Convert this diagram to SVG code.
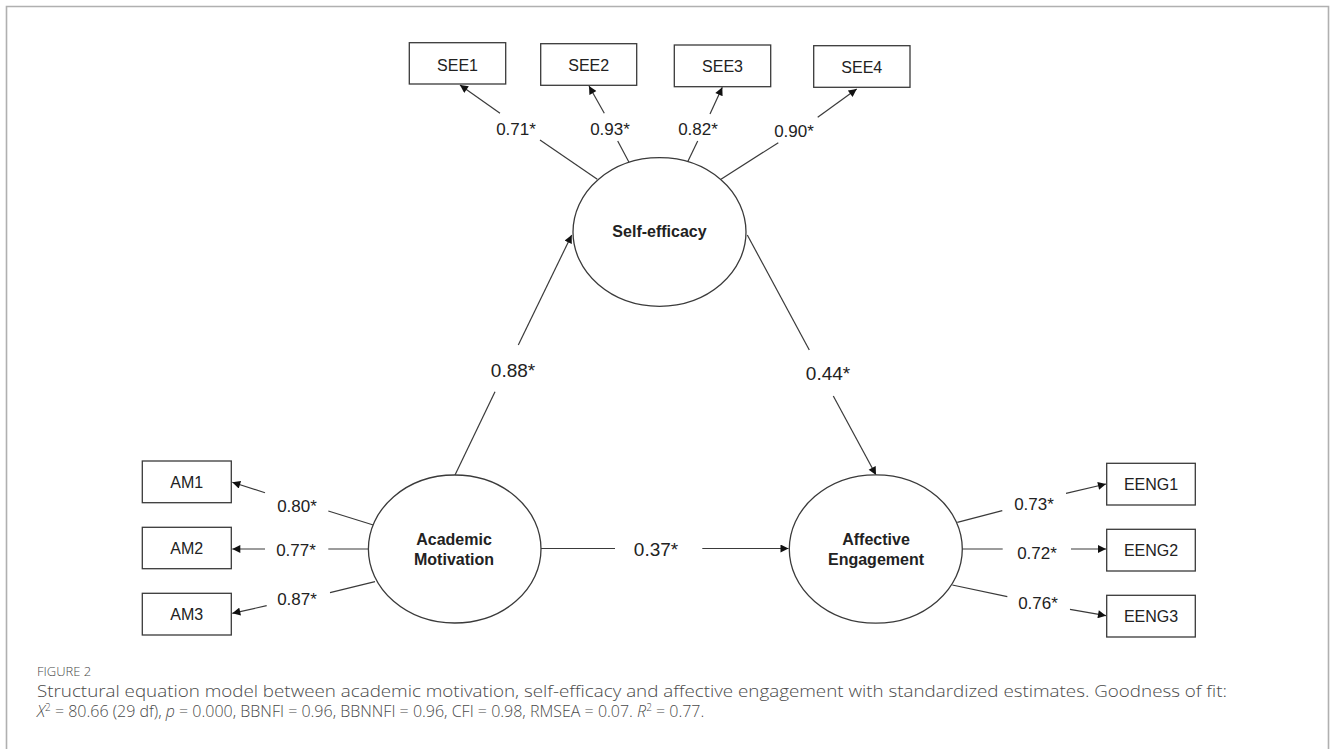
<svg xmlns="http://www.w3.org/2000/svg" width="1330" height="749" viewBox="0 0 1330 749">
<style>
.box{fill:#fff;stroke:#3a3a3a;stroke-width:1.3}
.lat{fill:#fff;stroke:#3a3a3a;stroke-width:1.3}
.lbl{font-family:"Liberation Sans",Arial,sans-serif;font-size:16px;fill:#222;text-anchor:middle}
.latl{font-family:"Liberation Sans",Arial,sans-serif;font-size:16px;font-weight:bold;fill:#222;text-anchor:middle}
.ld{font-family:"Liberation Sans",Arial,sans-serif;font-size:17px;fill:#222;text-anchor:middle}
.st{font-family:"Liberation Sans",Arial,sans-serif;font-size:19px;fill:#222;text-anchor:middle}
.ln{fill:none;stroke:#3a3a3a;stroke-width:1.2}
.cap{font-family:"Open Sans","Noto Sans",sans-serif;font-weight:300;fill:#4a4a4a}
</style>
<defs>
<marker id="ah" viewBox="0 0 10 10" refX="10" refY="5" markerWidth="9" markerHeight="8" markerUnits="userSpaceOnUse" orient="auto">
<path d="M0,0 L10,5 L0,10 z" fill="#111"/>
</marker>
</defs>
<rect width="1330" height="749" fill="#fff"/>
<path d="M6.5,749 V6.5 H1328.5 V749" fill="none" stroke="#b0b0b0" stroke-width="1.6"/>

<g id="connectors">
<path class="ln" d="M597.3,179.3 L540,140"/>
<path class="ln" d="M500,113.3 L460,85" marker-end="url(#ah)"/>
<path class="ln" d="M629,162.3 L617.7,141"/>
<path class="ln" d="M604.3,113.3 L589,86" marker-end="url(#ah)"/>
<path class="ln" d="M687.7,161.7 L697.7,141"/>
<path class="ln" d="M710,114 L722.3,87.3" marker-end="url(#ah)"/>
<path class="ln" d="M721,179.3 L778.3,142.7"/>
<path class="ln" d="M817.7,117.3 L856.7,89" marker-end="url(#ah)"/>
<path class="ln" d="M455,475 L495,391.7"/>
<path class="ln" d="M518.3,345 L571.7,235" marker-end="url(#ah)"/>
<path class="ln" d="M747.3,235 L809.3,350"/>
<path class="ln" d="M833.3,396 L876,475" marker-end="url(#ah)"/>
<path class="ln" d="M541,548.5 L615,548.5"/>
<path class="ln" d="M702.3,548.5 L788.5,548.5" marker-end="url(#ah)"/>
<path class="ln" d="M373.3,525 L328.3,511"/>
<path class="ln" d="M265,492.7 L232.3,482.3" marker-end="url(#ah)"/>
<path class="ln" d="M368.3,549 L328.3,549"/>
<path class="ln" d="M265,549 L232.3,549" marker-end="url(#ah)"/>
<path class="ln" d="M375,581.7 L330,592.7"/>
<path class="ln" d="M266.7,605.7 L232.3,613.3" marker-end="url(#ah)"/>
<path class="ln" d="M957.3,522.3 L1002.3,510.7"/>
<path class="ln" d="M1066,493.3 L1106,484" marker-end="url(#ah)"/>
<path class="ln" d="M962.3,549 L1002.7,549"/>
<path class="ln" d="M1071,549 L1106,549" marker-end="url(#ah)"/>
<path class="ln" d="M952.3,585 L1007.3,596.7"/>
<path class="ln" d="M1070,609.3 L1106,615.7" marker-end="url(#ah)"/>
<text class="ld" x="516" y="135">0.71*</text>
<text class="ld" x="610" y="135">0.93*</text>
<text class="ld" x="698" y="135">0.82*</text>
<text class="ld" x="794" y="137">0.90*</text>
<text class="st" x="513" y="377">0.88*</text>
<text class="st" x="828" y="380">0.44*</text>
<text class="st" x="656" y="555.5">0.37*</text>
<text class="ld" x="297" y="511.5">0.80*</text>
<text class="ld" x="296" y="556">0.77*</text>
<text class="ld" x="297" y="605">0.87*</text>
<text class="ld" x="1034" y="510">0.73*</text>
<text class="ld" x="1037" y="559">0.72*</text>
<text class="ld" x="1038" y="609">0.76*</text>
</g>

<g id="see1"><rect class="box" x="409.3" y="42.7" width="96.4" height="41.3"/><text class="lbl" x="457.5" y="70.7">SEE1</text></g>
<g id="see2"><rect class="box" x="540.7" y="43.7" width="96" height="41.6"/><text class="lbl" x="588.7" y="71">SEE2</text></g>
<g id="see3"><rect class="box" x="674.3" y="45" width="96.4" height="41.7"/><text class="lbl" x="722.5" y="72.3">SEE3</text></g>
<g id="see4"><rect class="box" x="813.7" y="45.7" width="96.3" height="41.6"/><text class="lbl" x="861.8" y="72.7">SEE4</text></g>

<g id="self-efficacy"><ellipse class="lat" cx="659.5" cy="232" rx="86.5" ry="74.3"/><text class="latl" x="659.5" y="236.7">Self-efficacy</text></g>
<g id="academic-motivation"><ellipse class="lat" cx="454.7" cy="549" rx="86.3" ry="74"/><text class="latl" x="454" y="545">Academic</text><text class="latl" x="454" y="564.5">Motivation</text></g>
<g id="affective-engagement"><ellipse class="lat" cx="875.8" cy="549" rx="86.5" ry="74.2"/><text class="latl" x="876" y="545">Affective</text><text class="latl" x="876" y="564.5">Engagement</text></g>

<g id="am1"><rect class="box" x="142.3" y="461" width="89" height="41.7"/><text class="lbl" x="186.8" y="488.3">AM1</text></g>
<g id="am2"><rect class="box" x="142.3" y="527.3" width="89" height="41.4"/><text class="lbl" x="186.8" y="554">AM2</text></g>
<g id="am3"><rect class="box" x="142.3" y="593.3" width="89" height="41.7"/><text class="lbl" x="186.8" y="620">AM3</text></g>

<g id="eeng1"><rect class="box" x="1106.7" y="463.3" width="88.6" height="41.7"/><text class="lbl" x="1151" y="490">EENG1</text></g>
<g id="eeng2"><rect class="box" x="1106.7" y="529.3" width="88.6" height="41.7"/><text class="lbl" x="1151" y="556">EENG2</text></g>
<g id="eeng3"><rect class="box" x="1106.7" y="595.3" width="88.6" height="41.7"/><text class="lbl" x="1151" y="621.7">EENG3</text></g>

<g id="caption">
<text class="cap" x="37" y="676" font-size="13" fill="#666">FIGURE 2</text>
<text class="cap" x="37" y="696.5" font-size="16" textLength="1190" lengthAdjust="spacingAndGlyphs">Structural equation model between academic motivation, self-efficacy and affective engagement with standardized estimates. Goodness of fit:</text>
<text class="cap" x="37" y="717" font-size="16"><tspan font-style="italic">X</tspan><tspan font-size="10" dy="-6">2</tspan><tspan dy="6"> = 80.66 (29 df), </tspan><tspan font-style="italic">p</tspan> = 0.000, BBNFI = 0.96, BBNNFI = 0.96, CFI = 0.98, RMSEA = 0.07. <tspan font-style="italic">R</tspan><tspan font-size="10" dy="-6">2</tspan><tspan dy="6"> = 0.77.</tspan></text>
</g>
</svg>
